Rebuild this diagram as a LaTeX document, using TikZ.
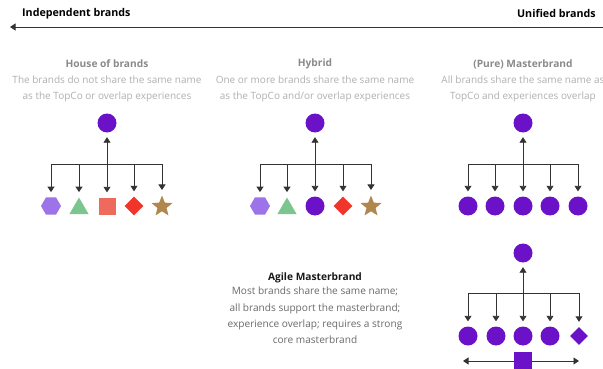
\documentclass[tikz,border=0pt]{standalone}
\usepackage{fontspec}
\setmainfont{Open Sans}
\usetikzlibrary{shapes.geometric,arrows.meta}
\definecolor{purp}{HTML}{6B12C9}
\definecolor{lav}{HTML}{9D73EA}
\definecolor{grn}{HTML}{7DC58F}
\definecolor{salm}{HTML}{EE6A5D}
\definecolor{redd}{HTML}{F2352B}
\definecolor{gold}{HTML}{B0874D}
\definecolor{linec}{HTML}{333333}
\definecolor{ttlgray}{HTML}{8A8A8A}
\definecolor{descgray}{HTML}{B0B0B0}
\definecolor{agdesc}{HTML}{6A6A6A}
\tikzset{
  conn/.style={draw=linec, line width=0.9pt},
  arr/.style={conn, -{Triangle[width=7pt,length=5.5pt]}},
  circ/.style={circle, fill=purp, minimum size=19pt, inner sep=0pt},
  hexa/.style={regular polygon, regular polygon sides=6, fill=lav, minimum size=20pt, inner sep=0pt},
  tri/.style={regular polygon, regular polygon sides=3, fill=grn, minimum size=22pt, inner sep=0pt},
  sq/.style={rectangle, fill=salm, minimum size=17pt, inner sep=0pt},
  dia/.style={diamond, fill=redd, minimum size=19pt, inner sep=0pt},
  starr/.style={star, star points=5, star point ratio=2.3, fill=gold, minimum size=22pt, inner sep=0pt},
  topttl/.style={font=\fontsize{10.7}{13}\selectfont\bfseries, text=black, inner sep=0pt},
  colttl/.style={font=\fontsize{10.2}{12}\selectfont\bfseries, text=ttlgray, inner sep=0pt},
  coldesc/.style={font=\fontsize{10}{16}\selectfont, text=descgray, inner sep=0pt, align=center},
  agttl/.style={font=\fontsize{10.2}{12}\selectfont\bfseries, text=black!90, inner sep=0pt},
  agdescs/.style={font=\fontsize{10.1}{16.2}\selectfont, text=agdesc, inner sep=0pt, align=center},
}
\begin{document}
\begin{tikzpicture}[x=1pt,y=-1pt]
\useasboundingbox[fill=white] (0,0) rectangle (603,369);
% axis
\node[topttl, anchor=west] (indep) at (22,13.5) {Independent brands};
\node[topttl, anchor=east] (unif) at (596,13.5) {Unified brands};
\coordinate (axr) at (603,27);
\coordinate (axl) at (10,27);
\draw[arr] (axr) -- (axl);
% column titles
\node[colttl] (t1) at (107,64) {House of brands};
\node[coldesc, anchor=north] (d1) at (107,75.5) {The brands do not share the same name\\as the TopCo or overlap experiences};
\node[colttl] (t2) at (315,64) {Hybrid};
\node[coldesc, anchor=north] (d2) at (315,75.5) {One or more brands share the same name\\as the TopCo and/or overlap experiences};
\node[colttl] (t3) at (523,64) {(Pure) Masterbrand};
\node[coldesc, anchor=north] (d3) at (523,75.5) {All brands share the same name as\\TopCo and experiences overlap};
% column 1
\node[circ] (h0) at (107,123) {};
\node[hexa] (h1) at (51,206) {};
\node[tri] (h2) at (79,208.5) {};
\node[sq] (h3) at (107,206) {};
\node[dia] (h4) at (134,206) {};
\node[starr] (h5) at (162,206.5) {};
\coordinate (hb) at (107,164);
\draw[conn] (h1 |- hb) -- (h5 |- hb);
\draw[arr, shorten >=4.5pt] (hb) -- (h0);
\foreach \i in {1,...,5} \draw[arr, shorten >=5pt] (h\i |- hb) -- (h\i);
% column 2
\node[circ] (y0) at (315,123) {};
\node[hexa] (y1) at (260,206) {};
\node[tri] (y2) at (287,208.5) {};
\node[circ] (y3) at (315,206) {};
\node[dia] (y4) at (343,206) {};
\node[starr] (y5) at (371,206.5) {};
\coordinate (yb) at (315,164);
\draw[conn] (y1 |- yb) -- (y5 |- yb);
\draw[arr, shorten >=4.5pt] (yb) -- (y0);
\foreach \i in {1,...,5} \draw[arr, shorten >=5pt] (y\i |- yb) -- (y\i);
% column 3
\node[circ] (p0) at (523,123) {};
\node[circ] (p1) at (468,206) {};
\node[circ] (p2) at (495,206) {};
\node[circ] (p3) at (523,206) {};
\node[circ] (p4) at (550,206) {};
\node[circ] (p5) at (578,206) {};
\coordinate (pb) at (523,164);
\draw[conn] (p1 |- pb) -- (p5 |- pb);
\draw[arr, shorten >=4.5pt] (pb) -- (p0);
\foreach \i in {1,...,5} \draw[arr, shorten >=5pt] (p\i |- pb) -- (p\i);
% agile text
\node[agttl] (at) at (315,277.5) {Agile Masterbrand};
\node[agdescs, anchor=north] (ad) at (315,287) {Most brands share the same name;\\all brands support the masterbrand;\\experience overlap; requires a strong\\core masterbrand};
% agile diagram
\node[circ] (g0) at (523,253) {};
\node[circ] (g1) at (468,336) {};
\node[circ] (g2) at (496,336) {};
\node[circ] (g3) at (523,336) {};
\node[circ] (g4) at (550,336) {};
\node[dia, fill=purp, minimum size=18pt] (g5) at (579,336) {};
\coordinate (gb) at (523,293);
\draw[conn] (g1 |- gb) -- (g5 |- gb);
\draw[arr, shorten >=4.5pt] (gb) -- (g0);
\foreach \i in {1,...,5} \draw[arr, shorten >=5pt] (g\i |- gb) -- (g\i);
\node[rectangle, fill=purp, minimum size=18pt, inner sep=0pt] (gs) at (523,361) {};
\coordinate (gl) at (463,361);
\coordinate (gr) at (579,361);
\draw[arr] (gs) -- (gl);
\draw[arr] (gs) -- (gr);
\end{tikzpicture}
\end{document}
